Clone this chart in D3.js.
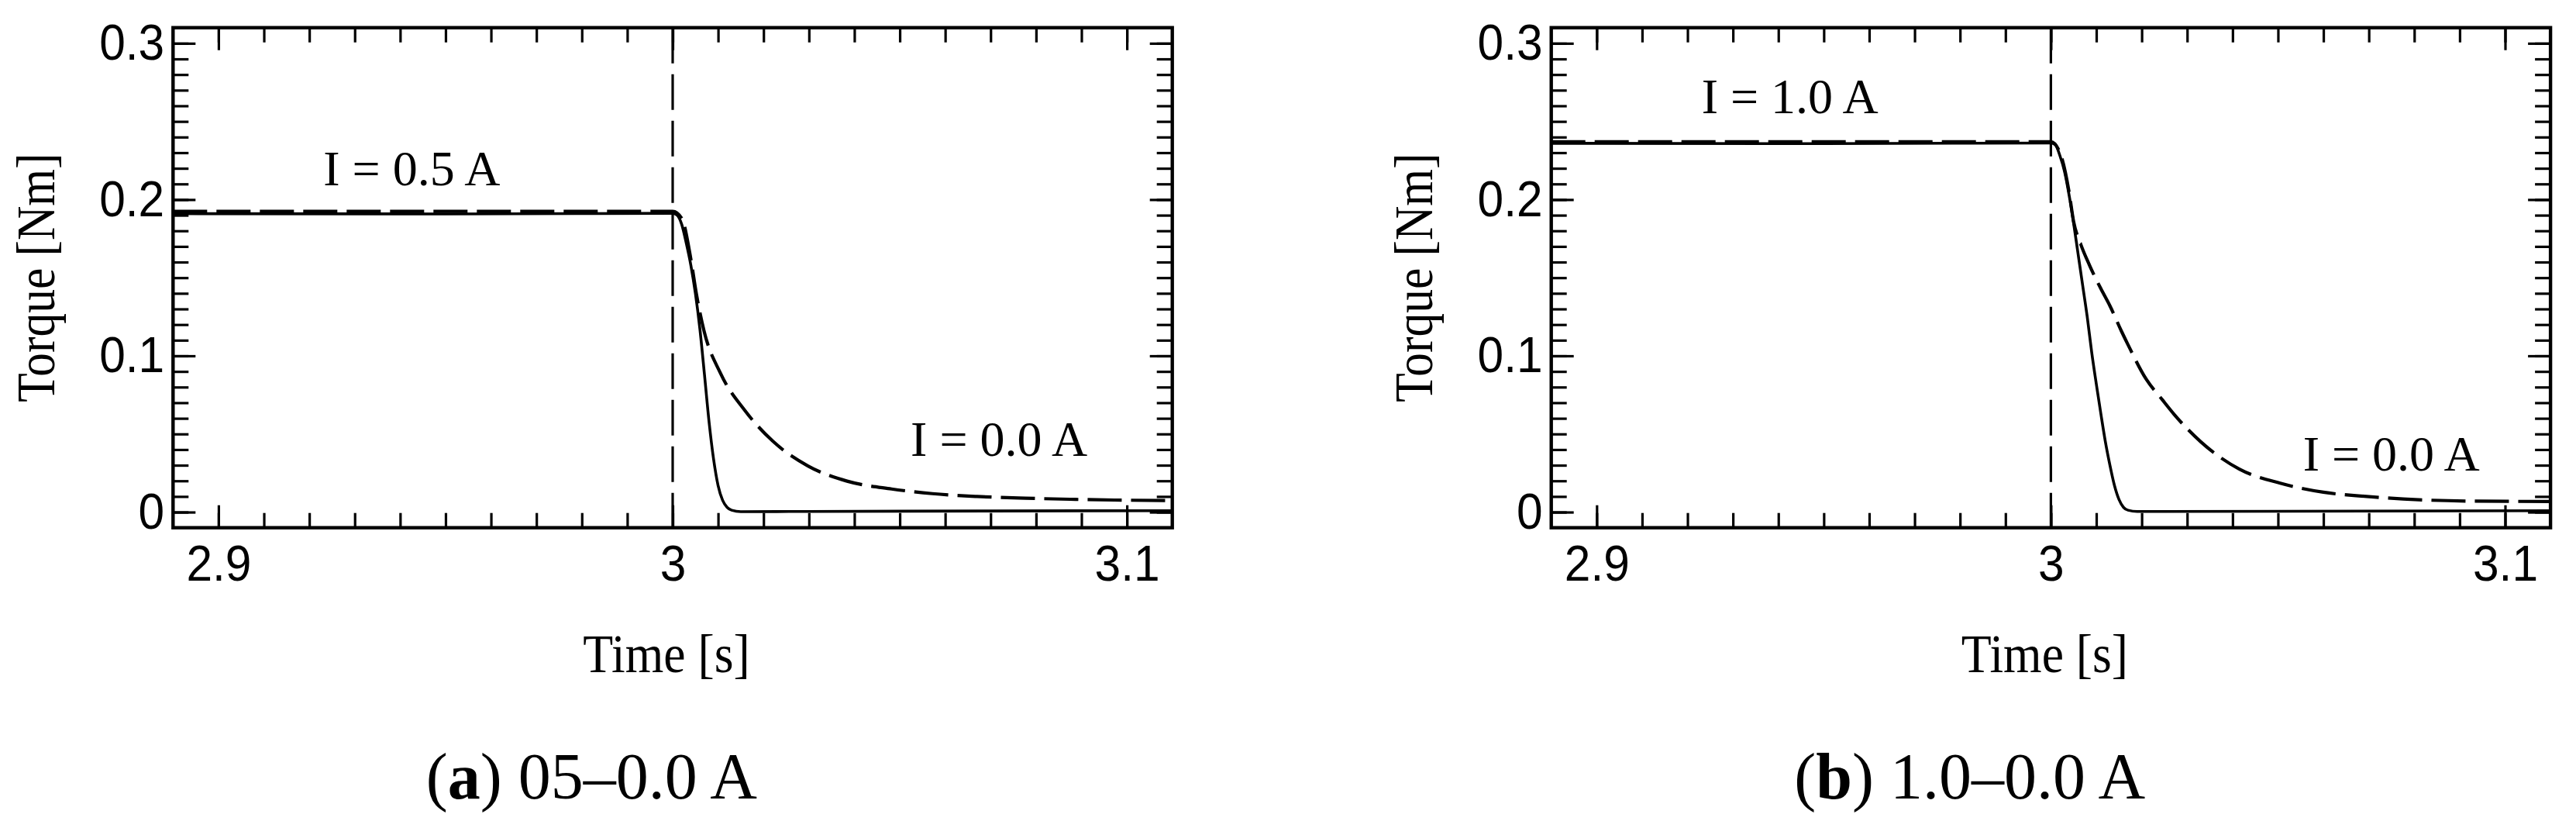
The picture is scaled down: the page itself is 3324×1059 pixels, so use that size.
<!DOCTYPE html>
<html>
<head>
<meta charset="utf-8">
<script src="https://cdn.jsdelivr.net/npm/d3@7"></script>
<style>
  html, body { margin: 0; padding: 0; background: #fff; }
  svg { display: block; }
</style>
</head>
<body>
<svg id="chart" width="3324" height="1059"></svg>
<script>
// ---------------- data ----------------
const timeDomain = [2.89, 3.11];
const torqueDomain = [-0.01, 0.31];
const timeTicks = [2.9, 3.0, 3.1];
const timeTickLabels = ["2.9", "3", "3.1"];
const torqueTicks = [0, 0.1, 0.2, 0.3];
const torqueTickLabels = ["0", "0.1", "0.2", "0.3"];
const switchTime = [3.0];

const panelLetters = ["a", "b"];
const panelCaptions = [" 05\u20130.0 A", " 1.0\u20130.0 A"];
const xLabel = "Time [s]";
const yLabel = "Torque [Nm]";

// panel (a): 0.5 A -> 0.0 A   [time s, torque Nm]
const solidA = [
  [2.89, 0.1910], [2.95, 0.1908], [3.000, 0.1912], [3.001, 0.1900], [3.002, 0.1840],
  [3.003, 0.1720], [3.004, 0.1580], [3.005, 0.1400], [3.006, 0.1170], [3.007, 0.0880],
  [3.008, 0.0580], [3.009, 0.0340], [3.010, 0.0170], [3.011, 0.0075], [3.012, 0.0030],
  [3.013, 0.0012], [3.015, 0.0003], [3.03, 0.0004], [3.07, 0.0007], [3.11, 0.0009]
];
const dashedA = [
  [2.89, 0.1925], [2.95, 0.1925], [3.000, 0.1925], [3.002, 0.1880], [3.004, 0.1620],
  [3.0052, 0.1400], [3.0069, 0.1160], [3.0105, 0.0890], [3.0159, 0.0650], [3.022, 0.0455],
  [3.0298, 0.0295], [3.0384, 0.0198], [3.0482, 0.0148], [3.0572, 0.0118], [3.067, 0.0100],
  [3.0777, 0.0089], [3.0875, 0.0082], [3.0973, 0.0077], [3.11, 0.0074]
];
// panel (b): 1.0 A -> 0.0 A
const solidB = [
  [2.89, 0.2360], [2.95, 0.2358], [3.000, 0.2362], [3.001, 0.2350], [3.002, 0.2280],
  [3.003, 0.2180], [3.004, 0.2030], [3.005, 0.1850], [3.006, 0.1650], [3.007, 0.1450],
  [3.008, 0.1250], [3.009, 0.1020], [3.010, 0.0820], [3.011, 0.0630], [3.012, 0.0450],
  [3.013, 0.0300], [3.014, 0.0170], [3.015, 0.0080], [3.016, 0.0030], [3.017, 0.0012],
  [3.019, 0.0004], [3.05, 0.0005], [3.11, 0.0009]
];
const dashedB = [
  [2.89, 0.2370], [2.95, 0.2370], [3.000, 0.2370], [3.002, 0.2300], [3.004, 0.2050],
  [3.005, 0.1860], [3.0065, 0.1720], [3.0085, 0.1580], [3.011, 0.1430], [3.013, 0.1320],
  [3.0155, 0.1160], [3.017, 0.1070], [3.021, 0.0850], [3.0245, 0.0720], [3.027, 0.0630],
  [3.033, 0.0450], [3.0415, 0.0275], [3.0505, 0.0185], [3.06, 0.0127], [3.069, 0.0101],
  [3.081, 0.0079], [3.0935, 0.0070], [3.11, 0.0068]
];

const annotTextA = ["I = 0.5 A", "I = 0.0 A"];
const annotPosA = [[2.9231, 0.2092], [3.0524, 0.0360]];
const annotTextB = ["I = 1.0 A", "I = 0.0 A"];
const annotPosB = [[2.9231, 0.2553], [3.0555, 0.0268]];

const panels = [
  { letter: panelLetters[0], caption: panelCaptions[0], solid: solidA, dashed: dashedA, annText: annotTextA, annPos: annotPosA },
  { letter: panelLetters[1], caption: panelCaptions[1], solid: solidB, dashed: dashedB, annText: annotTextB, annPos: annotPosB }
];

// ---------------- layout ----------------
const svg = d3.select("#chart");
const plotLefts = [223.3, 2001.7];
const plotTop = 35.7;
const plotW = 1289.4;
const plotH = 645;
const sansFont = "'Liberation Sans', Arial, sans-serif";
const serifFont = "'Liberation Serif', 'Times New Roman', serif";

const x = d3.scaleLinear().domain(timeDomain).range([0, plotW]);
const y = d3.scaleLinear().domain(torqueDomain).range([plotH, 0]);

const minorTime = d3.range(0, 21).map(i => +(2.9 + i * 0.01).toFixed(3));
const minorTorque = d3.range(0, 31).map(i => +(i * 0.01).toFixed(3));

panels.forEach((p, pi) => {
  const g = svg.append("g").attr("transform", `translate(${plotLefts[pi]},${plotTop})`);

  const clipId = "clip" + pi;
  g.append("clipPath").attr("id", clipId)
    .append("rect").attr("x", 0).attr("y", 0).attr("width", plotW).attr("height", plotH);

  function styleAxis(sel) {
    sel.select(".domain").remove();
    sel.selectAll(".tick line").attr("stroke", "#000").attr("stroke-width", 3.2);
    sel.selectAll("text").attr("fill", "#000").attr("font-family", sansFont)
      .attr("font-size", 65).attr("transform", "scale(0.93,1)");
  }

  // bottom
  g.append("g").attr("transform", `translate(0,${plotH})`)
    .call(d3.axisBottom(x).tickValues(minorTime).tickSize(-19).tickFormat(""))
    .call(styleAxis);
  g.append("g").attr("transform", `translate(0,${plotH})`)
    .call(d3.axisBottom(x).tickValues(timeTicks).tickSize(-29).tickPadding(22)
      .tickFormat((d, i) => timeTickLabels[i]))
    .call(styleAxis);
  // top
  g.append("g")
    .call(d3.axisTop(x).tickValues(minorTime).tickSize(-19).tickFormat(""))
    .call(styleAxis);
  g.append("g")
    .call(d3.axisTop(x).tickValues(timeTicks).tickSize(-29).tickFormat(""))
    .call(styleAxis);
  // left
  g.append("g")
    .call(d3.axisLeft(y).tickValues(minorTorque).tickSize(-20).tickFormat(""))
    .call(styleAxis);
  g.append("g")
    .call(d3.axisLeft(y).tickValues(torqueTicks).tickSize(-29).tickPadding(12)
      .tickFormat((d, i) => torqueTickLabels[i]))
    .call(styleAxis);
  // right
  g.append("g").attr("transform", `translate(${plotW},0)`)
    .call(d3.axisRight(y).tickValues(minorTorque).tickSize(-20).tickFormat(""))
    .call(styleAxis);
  g.append("g").attr("transform", `translate(${plotW},0)`)
    .call(d3.axisRight(y).tickValues(torqueTicks).tickSize(-29).tickFormat(""))
    .call(styleAxis);

  // curves
  const line = d3.line().x(d => x(d[0])).y(d => y(d[1])).curve(d3.curveMonotoneX);
  const curves = g.append("g").attr("clip-path", `url(#${clipId})`);
  curves.append("path").datum(p.solid).attr("d", line)
    .attr("fill", "none").attr("stroke", "#000").attr("stroke-width", 3.6)
    .attr("stroke-linejoin", "round");
  curves.append("path").datum(p.dashed).attr("d", line)
    .attr("fill", "none").attr("stroke", "#000").attr("stroke-width", 4.2)
    .attr("stroke-dasharray", "44,12");

  // switching instant
  curves.selectAll(".switch").data(switchTime).enter().append("line")
    .attr("x1", d => x(d)).attr("x2", d => x(d))
    .attr("y1", y(torqueDomain[1])).attr("y2", y(torqueDomain[0]))
    .attr("stroke", "#000").attr("stroke-width", 3.2)
    .attr("stroke-dasharray", "46,14");

  // frame
  g.append("rect").attr("x", 0).attr("y", 0).attr("width", plotW).attr("height", plotH)
    .attr("fill", "none").attr("stroke", "#000").attr("stroke-width", 4.4);

  // annotations
  g.selectAll(".ann").data(p.annPos).enter().append("text")
    .attr("x", d => x(d[0])).attr("y", d => y(d[1]))
    .attr("font-family", serifFont).attr("font-size", 64).attr("fill", "#000")
    .text((d, i) => p.annText[i]);

  // axis labels
  g.append("text")
    .attr("transform", `translate(${plotW / 2 - 8},${867 - plotTop}) scale(0.91,1)`)
    .attr("text-anchor", "middle")
    .attr("font-family", serifFont).attr("font-size", 70).attr("fill", "#000")
    .text(xLabel);
  g.append("text")
    .attr("transform", `translate(${70 - 223.3},${plotH / 2}) rotate(-90) scale(0.89,1)`)
    .attr("text-anchor", "middle")
    .attr("font-family", serifFont).attr("font-size", 69).attr("fill", "#000")
    .text(yLabel);

  // caption
  const cap = g.append("text")
    .attr("x", 540).attr("y", 1030 - plotTop)
    .attr("text-anchor", "middle")
    .attr("font-family", serifFont).attr("font-size", 84).attr("fill", "#000");
  cap.append("tspan").text("(");
  cap.append("tspan").attr("font-weight", "bold").text(p.letter);
  cap.append("tspan").text(")");
  cap.append("tspan").text(p.caption);
});
</script>
</body>
</html>
